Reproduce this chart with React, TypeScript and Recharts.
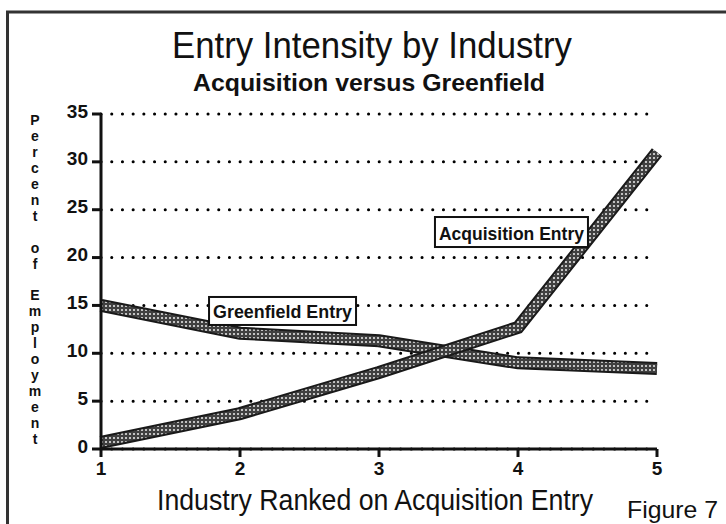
import React from 'react';
import { LineChart, Line, XAxis, YAxis, CartesianGrid, ReferenceDot } from 'recharts';

const industries = [1, 2, 3, 4, 5];
const greenfield = [15, 12.1, 11.3, 9.0, 8.4];
const acquisition = [0.7, 3.7, 8.0, 12.7, 31.0];
const yTicks = [0, 5, 10, 15, 20, 25, 30, 35];
const xTicks = [1, 2, 3, 4, 5];
const yLabel = 'Percent of Employment';

const data = industries.map((x, i) => ({ x, greenfield: greenfield[i], acquisition: acquisition[i] }));

const FONT = '"Liberation Sans", Arial, Helvetica, sans-serif';

const YTick = (props: any) => {
  const { x, y, payload } = props;
  return (
    <text x={x} y={y - 3} textAnchor="end" dominantBaseline="central" fontFamily={FONT} fontWeight="bold" fontSize={19} fill="#111">
      {payload.value}
    </text>
  );
};

const XTick = (props: any) => {
  const { x, y, payload } = props;
  return (
    <text x={x} y={y} dy="0.72em" textAnchor="middle" fontFamily={FONT} fontWeight="bold" fontSize={19} fill="#111">
      {payload.value}
    </text>
  );
};

const makeBox = (label: string, w: number, h: number, fs: number, tl: number) => (props: any) => {
  const { cx, cy } = props;
  return (
    <g>
      <rect x={cx - w / 2} y={cy - h / 2} width={w} height={h} fill="#fff" stroke="#111" strokeWidth={2} />
      <text x={cx} y={cy + 1} textAnchor="middle" dominantBaseline="central" fontFamily={FONT} fontWeight="bold" fontSize={fs} fill="#111" textLength={tl} lengthAdjust="spacingAndGlyphs">
        {label}
      </text>
    </g>
  );
};

export default function App() {
  return (
    <div style={{ position: 'absolute', left: 0, top: 0, width: 726, height: 524, background: '#fff' }}>
      <svg width={726} height={524} style={{ position: 'absolute', left: 0, top: 0 }}>
        <line x1={6} y1={12} x2={726} y2={12} stroke="#333" strokeWidth={3} />
        <line x1={7.5} y1={11} x2={7.5} y2={524} stroke="#333" strokeWidth={3} />
        <text x={372} y={58} textAnchor="middle" fontFamily={FONT} fontSize={37} fill="#111" textLength={400} lengthAdjust="spacingAndGlyphs">
          Entry Intensity by Industry
        </text>
        <text x={369} y={91} textAnchor="middle" fontFamily={FONT} fontWeight="bold" fontSize={24} fill="#111" textLength={352} lengthAdjust="spacingAndGlyphs">
          Acquisition versus Greenfield
        </text>
        <text x={375} y={510} textAnchor="middle" fontFamily={FONT} fontSize={29} fill="#111" textLength={436} lengthAdjust="spacingAndGlyphs">
          Industry Ranked on Acquisition Entry
        </text>
        <text x={627} y={518} fontFamily={FONT} fontSize={24} fill="#111" textLength={91} lengthAdjust="spacingAndGlyphs">
          Figure 7
        </text>
        {yLabel.split('').map((ch, i) => (
          <text key={i} x={35} y={120 + i * 15.95} textAnchor="middle" dominantBaseline="central" fontFamily={FONT} fontWeight="900" fontSize={14} fill="#111">
            {ch === ' ' ? '' : ch}
          </text>
        ))}
      </svg>
      <div style={{ position: 'absolute', left: 0, top: 0 }}>
        <LineChart width={726} height={524} data={data} margin={{ top: 114, right: 69, bottom: 45, left: 61 }}>
          <defs>
            <pattern id="dotfill" patternUnits="userSpaceOnUse" width={4} height={4}>
              <rect x={0} y={0} width={4} height={4} fill="#404040" />
              <circle cx={2} cy={2} r={1.0} fill="#eeeeee" />
            </pattern>
          </defs>
          <CartesianGrid vertical={false} stroke="#000" strokeWidth={3} strokeDasharray="0.1 10.6" strokeLinecap="round" />
          <XAxis
            dataKey="x"
            type="number"
            domain={[1, 5]}
            ticks={xTicks}
            tickSize={8}
            tickMargin={4}
            axisLine={{ stroke: '#111', strokeWidth: 3 }}
            tickLine={{ stroke: '#111', strokeWidth: 3 }}
            tick={<XTick />}
            height={30}
          />
          <YAxis
            type="number"
            domain={[0, 35]}
            ticks={yTicks}
            tickSize={9}
            tickMargin={4}
            axisLine={{ stroke: '#111', strokeWidth: 3 }}
            tickLine={{ stroke: '#111', strokeWidth: 3 }}
            tick={<YTick />}
            width={40}
          />
          <ReferenceDot x={2.306} y={14.42} r={0} shape={makeBox('Greenfield Entry', 147, 28, 18, 139)} />
          <ReferenceDot x={3.953} y={22.67} r={0} shape={makeBox('Acquisition Entry', 153, 30, 19, 145)} />
          <Line type="linear" dataKey="greenfield" stroke="#1a1a1a" strokeWidth={13} dot={false} isAnimationActive={false} strokeLinejoin="miter" />
          <Line type="linear" dataKey="greenfield" stroke="url(#dotfill)" strokeWidth={9} dot={false} isAnimationActive={false} strokeLinejoin="miter" />
          <Line type="linear" dataKey="acquisition" stroke="#1a1a1a" strokeWidth={13} dot={false} isAnimationActive={false} strokeLinejoin="miter" />
          <Line type="linear" dataKey="acquisition" stroke="url(#dotfill)" strokeWidth={9} dot={false} isAnimationActive={false} strokeLinejoin="miter" />
        </LineChart>
      </div>
    </div>
  );
}
